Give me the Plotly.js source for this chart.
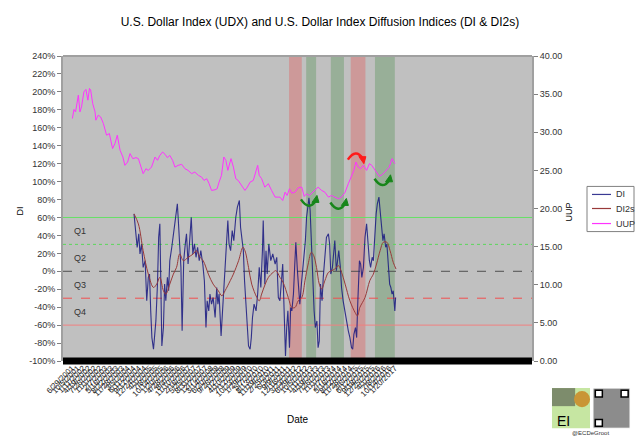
<!DOCTYPE html>
<html>
<head>
<meta charset="utf-8">
<script src="https://cdn.plot.ly/plotly-3.0.1.min.js"></script>
<style>html,body{margin:0;padding:0;background:#fff;}#chart{width:640px;height:438px;}</style>
</head>
<body>
<div id="chart"></div>
<script>
// ---- x axis tick labels (weekly data, a label every 14 weeks) ----
const tickWeeks = [0,14,28,42,56,70,84,98,112,126,140,154,168,182,196,210,224,238,252,266,280,294,308,322,336,350,364,378,392,406,420,434,448,462,476,490,504,518,532,546,560,574,588,602,616,630,644,658,672,686,700,714,728,742,756,770,784,798,812];
const tickLabels = ["6/29/2001","10/5/2001","1/11/2002","4/19/2002","7/26/2002","11/1/2002","2/7/2003","5/16/2003","8/22/2003","11/28/2003","3/5/2004","6/11/2004","9/17/2004","12/24/2004","4/1/2005","7/8/2005","10/14/2005","1/20/2006","4/28/2006","8/4/2006","11/10/2006","2/16/2007","5/25/2007","8/31/2007","12/7/2007","3/14/2008","6/20/2008","9/26/2008","1/2/2009","4/10/2009","7/17/2009","10/23/2009","1/29/2010","5/7/2010","8/13/2010","11/19/2010","2/25/2011","6/3/2011","9/9/2011","12/16/2011","3/23/2012","6/29/2012","10/5/2012","1/11/2013","4/19/2013","7/26/2013","11/1/2013","2/7/2014","5/16/2014","8/22/2014","11/28/2014","3/6/2015","6/12/2015","9/18/2015","12/25/2015","4/1/2016","7/8/2016","10/14/2016","1/20/2017"];

// ---- left axis tick labels ----
const diTicks = [240,220,200,180,160,140,120,100,80,60,40,20,0,-20,-40,-60,-80,-100];
const diTickLabels = ["240%","220%","200%","180%","160%","140%","120%","100%","80%","60%","40%","20%","0%","-20%","-40%","-60%","-80%","-100%"];

// ---- UUP (right axis) ----
const uupWeek = [1,5,9,16,20,24,30,35,40,44,47,52,58,60,66,72,79,87,94,102,108,114,121,128,133,140,146,153,161,167,171,179,186,192,200,209,215,221,228,234,240,246,253,259,267,276,284,292,301,309,318,326,332,339,345,351,360,365,370,376,382,387,392,396,400,406,412,418,427,435,441,448,456,463,467,471,477,485,494,502,511,519,523,530,536,541,547,553,561,569,578,584,590,597,603,611,619,628,636,645,653,661,670,678,687,695,703,709,714,720,726,733,741,748,754,760,766,773,781,790,798,805,812];
const uupValue = [31.80,32.99,32.67,34.87,32.67,33.33,35.30,35.62,34.21,35.75,35.53,33.78,32.67,31.58,32.24,32.01,31.14,29.61,29.83,27.86,28.51,29.61,27.63,26.75,25.66,26.09,27.20,26.54,26.67,26.54,25.88,24.57,25.22,25.00,25.43,26.75,26.32,26.97,27.41,27.11,26.67,26.97,26.32,25.43,25.66,25.79,25.22,25.00,24.57,24.78,24.34,24.12,23.68,23.91,23.25,22.37,22.46,22.59,23.46,24.34,26.75,26.32,25.00,25.88,26.54,25.43,23.91,23.68,23.03,22.37,22.80,23.46,23.68,25.00,25.66,24.34,23.91,22.80,23.25,22.37,21.49,21.49,21.49,21.05,22.14,21.71,22.59,22.01,22.14,22.72,22.80,21.58,21.93,21.71,22.01,22.37,22.80,22.37,22.14,21.49,21.71,21.49,21.28,21.49,22.14,23.25,24.34,25.00,26.09,25.43,25.22,25.66,25.00,25.88,25.66,25.22,24.78,24.21,24.47,25.00,25.43,26.54,25.88];

// ---- DI (left axis, %) ----
const diWeek = [156,161,164,168,171,175,179,184,188,192,195,198,201,205,208,211,215,218,221,223,226,230,233,236,240,243,246,251,255,259,262,265,267,271,274,277,281,285,288,292,296,300,304,308,312,316,320,324,329,333,337,340,344,347,351,355,360,364,367,370,375,379,382,386,389,392,395,399,403,407,412,416,421,424,428,431,434,438,441,444,448,451,454,458,463,467,471,475,479,481,485,488,491,495,500,505,511,515,519,523,530,533,537,540,543,547,550,553,557,560,563,567,570,573,577,580,583,587,590,594,596,599,602,606,609,612,616,619,622,625,629,632,636,640,645,648,651,655,658,661,665,668,671,675,678,682,687,691,695,699,703,706,709,713,716,719,723,726,729,733,737,741,745,748,751,755,758,761,765,768,772,775,779,782,785,789,792,795,799,802,805,808,812,814];
const diValue = [64,45,26.7,41.7,19.3,30.5,4.4,11.8,-32.9,-6.8,-3.1,-44,-73.9,-86.9,-70.2,-55.3,-14.3,37.9,52.9,-14.3,-83.2,-62.7,-14.3,-32.9,-6.8,-21.7,11.8,26.8,41.7,56.6,67.8,75.2,60.3,26.8,4.4,-66.4,11.8,30.5,41.7,8.1,34.2,60.3,19.3,30.5,15.6,26.8,11.8,23,8.1,-10.5,-62.7,-32.9,-44.1,-25.4,-36.6,-29.2,-51.5,-18,-36.6,-25.4,-72,-40.3,-18,11.8,45.4,56.6,30.5,23,45.4,34.2,60.3,71.5,78.9,49.1,34.2,23,-10.5,-44.1,-70.2,-83.2,-86.9,-73.9,-51.5,-36.6,-44.1,-25.4,4.4,-18,23,56.6,-14.3,23,-3.1,30.5,11.8,19.3,8.1,15.6,-29.2,-32.9,8.1,-32.9,-94.4,-62.7,-44.1,-85.1,-40.3,-44.1,-25.4,4.4,32.4,0.7,-25.4,-36.6,-14.3,0.7,19.3,34.2,60.3,75.2,82,67.8,26.8,-6.8,-44.1,-62.7,-55.3,-85.1,-77.6,-14.3,-32.9,-6.8,11.8,37.9,41.7,30.5,-3.1,4.4,19.3,34.2,0.7,11.8,23,4.4,-18,-32.9,-47.8,-59,-66.4,-73.9,-85.1,-86.9,-70.2,-62.7,-73.9,-32.9,11.8,8.1,-6.8,4.4,37.9,52.9,23,11.8,4.4,15.6,11.8,41.7,64,75.2,82.7,67.8,49.1,34.2,41.7,26.8,30.5,11.8,-14.3,-18,-25.4,-21.7,-44.1,-29.2];

// ---- DI2s (left axis, %) ----
const di2sWeek = [156,167,179,192,205,213,221,230,236,246,255,263,271,280,292,305,313,322,330,343,355,368,377,385,398,406,419,430,435,444,452,465,471,477,486,494,506,513,523,531,544,553,561,569,578,586,594,602,608,615,622,628,636,645,653,661,670,678,687,699,712,718,724,737,749,758,766,775,783,792,800,808,815];
const di2sValue = [64,52.8,23,-3.1,-18,-14.3,-6.8,-21.7,-25.4,-14.3,-3.1,4.4,19.3,11.8,15.6,19.3,23,15.6,11.8,-3.1,-14.3,-21.7,-27.3,-21.7,-10.5,-3.1,11.8,26.8,23,4.4,-14.3,-29.2,-32.9,-25.4,-14.3,-6.8,-1.2,0.7,-6.8,-12.4,-29.2,-40.3,-40.3,-32.9,-29.2,-10.5,8.1,21.2,17.5,4.4,-14.3,-19.8,-10.5,-1.2,0.7,2.5,6.3,-1.2,-14.3,-32.9,-45.9,-49.7,-40.3,-29.2,-10.5,-3.1,8.1,23,32.4,32.4,23,10,2.5];

// ---- shaded signal periods (weeks) ----
const bandStart = [546,589,651,701,762];
const bandEnd   = [578,614,684,738,812];
const bandKind  = ["bear","bull","bull","bear","bull"];

// ---- reversal arrows: week, UUP level, kind ----
const arrowWeek = [596,670,781,714];
const arrowLevel = [20.8,20.4,23.5,26.8];
const arrowKind = ["bull","bull","bull","bear"];

// ---- quartile threshold lines (DI %) ----
const refLevel = [60,30,0,-30,-60];
const refColor = ["#66e066","#5ad65a","#505050","#f05050","#f08080"];
const refDash  = ["solid","dot","dash","dash","solid"];
const quartileNames = ["Q1","Q2","Q3","Q4"];
const quartileMid = [45,15,-15,-45];

// ---- series names / colours (used for the traces and the drawn legend) ----
const seriesNames = ["DI","DI2s","UUP"];
const seriesColors = ["rgba(24,24,128,0.85)","#993a3a","#ff33ff"];

const FONT = "Liberation Sans, Arial, sans-serif";

const traces = [
  {x: diWeek, y: diValue, name: seriesNames[0], type: "scatter", mode: "lines",
   line: {color: seriesColors[0], width: 1.1}, yaxis: "y"},
  {x: di2sWeek, y: di2sValue, name: seriesNames[1], type: "scatter", mode: "lines",
   line: {color: seriesColors[1], width: 1, shape: "spline", smoothing: 1}, yaxis: "y"},
  {x: uupWeek, y: uupValue, name: seriesNames[2], type: "scatter", mode: "lines",
   line: {color: seriesColors[2], width: 1}, yaxis: "y2"}
];

const shapes = [];
bandStart.forEach((s, i) => {
  shapes.push({type: "rect", xref: "x", yref: "paper", x0: s, x1: bandEnd[i], y0: 0, y1: 1,
    fillcolor: bandKind[i] === "bear" ? "rgba(225,90,90,0.38)" : "rgba(70,140,70,0.33)",
    line: {width: 0}, layer: "below"});
});
refLevel.forEach((lv, i) => {
  shapes.push({type: "line", xref: "paper", yref: "y", x0: 0, x1: 1, y0: lv, y1: lv,
    line: {color: refColor[i], width: 1, dash: refDash[i]}, layer: "below"});
});
// top border and heavy bottom bar
shapes.push({type: "line", xref: "paper", yref: "paper", x0: 0, x1: 1, y0: 1, y1: 1,
  line: {color: "#a0a0a0", width: 2}});
shapes.push({type: "line", xref: "paper", yref: "paper", x0: 0, x1: 1, y0: 0, y1: 0,
  line: {color: "#000000", width: 7}});
// reversal arrows (pixel sized, anchored to data)
arrowWeek.forEach((w, i) => {
  const bull = arrowKind[i] === "bull";
  const col = bull ? "#17861a" : "#ff1a1a";
  shapes.push({type: "path", xref: "x", yref: "y2", xsizemode: "pixel", ysizemode: "pixel",
    xanchor: w, yanchor: arrowLevel[i],
    path: bull ? "M-8,3 Q0,-9 7,2" : "M-8,-3 Q0,9 7,-2",
    line: {color: col, width: 2.5}});
  shapes.push({type: "path", xref: "x", yref: "y2", xsizemode: "pixel", ysizemode: "pixel",
    xanchor: w, yanchor: arrowLevel[i],
    path: bull ? "M3,0 L10,0 L8,7 Z" : "M3,0 L10,0 L8,-7 Z",
    fillcolor: col, line: {color: col, width: 1}});
});

// drawn legend (box, line samples, labels)
const legendRowY = [0.5461, 0.5, 0.4507];
shapes.push({type: "rect", xref: "paper", yref: "paper", x0: 1.1173, x1: 1.2175, y0: 0.4243, y1: 0.5724,
  fillcolor: "#ffffff", line: {color: "#808080", width: 1}});
seriesNames.forEach((n, i) => {
  shapes.push({type: "line", xref: "paper", yref: "paper", x0: 1.1279, x1: 1.1684,
    y0: legendRowY[i], y1: legendRowY[i], line: {color: seriesColors[i], width: 1.2}});
});

// logo block (bottom right)
shapes.push({type: "rect", xref: "paper", yref: "paper", x0: 1.0426, x1: 1.1237, y0: -0.2204, y1: -0.0888,
  fillcolor: "#c6e6a2", line: {width: 0}});
shapes.push({type: "rect", xref: "paper", yref: "paper", x0: 1.0426, x1: 1.092, y0: -0.148, y1: -0.0888,
  fillcolor: "#7d8c6c", line: {width: 0}});
shapes.push({type: "circle", xref: "paper", yref: "paper", x0: 1.0896, x1: 1.1237, y0: -0.1513, y1: -0.0987,
  fillcolor: "#c99536", line: {width: 0}});
shapes.push({type: "rect", xref: "paper", yref: "paper", x0: 1.130, x1: 1.209, y0: -0.2204, y1: -0.0888,
  fillcolor: "#8c8c8c", line: {color: "#ffffff", width: 1}});
[[1.135,-0.118],[1.190,-0.118],[1.135,-0.214]].forEach(p => {
  shapes.push({type: "rect", xref: "paper", yref: "paper", x0: p[0], x1: p[0] + 0.015, y0: p[1], y1: p[1] + 0.022,
    fillcolor: "#ffffff", line: {color: "#000000", width: 1.5}});
});

const annotations = quartileNames.map((q, i) => ({
  text: q, xref: "paper", yref: "y", x: 0.019, y: quartileMid[i], xanchor: "left", yanchor: "middle",
  showarrow: false, font: {family: FONT, size: 9, color: "#333333"}
}));
seriesNames.forEach((n, i) => {
  annotations.push({text: n, xref: "paper", yref: "paper", x: 1.1748, y: legendRowY[i],
    xanchor: "left", yanchor: "middle", showarrow: false,
    font: {family: FONT, size: 9, color: "#333333"}});
});
// axis titles
annotations.push({text: "DI", xref: "paper", yref: "paper", x: (20 - 63) / 469, y: 0.49,
  textangle: -90, showarrow: false, xanchor: "center", yanchor: "middle",
  font: {family: FONT, size: 9, color: "#000000"}});
annotations.push({text: "UUP", xref: "paper", yref: "paper", x: (569 - 63) / 469, y: 0.487,
  textangle: -90, showarrow: false, xanchor: "center", yanchor: "middle",
  font: {family: FONT, size: 9, color: "#000000"}});
annotations.push({text: "Date", xref: "paper", yref: "paper", x: 0.5, y: (360 - 418) / 304,
  showarrow: false, xanchor: "center", yanchor: "middle",
  font: {family: FONT, size: 10, color: "#000000"}});
annotations.push({text: "EI", xref: "paper", yref: "paper", x: 1.068, y: -0.196,
  xanchor: "center", yanchor: "middle", showarrow: false,
  font: {family: FONT, size: 14, color: "#000000"}});
annotations.push({text: "@ECDeGroot", xref: "paper", yref: "paper", x: 1.124, y: -0.237,
  xanchor: "center", yanchor: "middle", showarrow: false,
  font: {family: FONT, size: 6, color: "#333333"}});

const layout = {
  width: 640, height: 438,
  paper_bgcolor: "#ffffff", plot_bgcolor: "#c0c0c0",
  margin: {l: 63, r: 108, t: 56, b: 77, pad: 0, autoexpand: false},
  font: {family: FONT, size: 9, color: "#333333"},
  title: {text: "U.S. Dollar Index (UDX) and U.S. Dollar Index Diffusion Indices (DI & DI2s)",
    x: 0.5, xref: "container", y: 0.95, yref: "container", yanchor: "middle",
    font: {family: FONT, size: 12, color: "#000000"}},
  showlegend: false,
  xaxis: {range: [-22.6, 1157], tickmode: "array", tickvals: tickWeeks, ticktext: tickLabels,
    tickangle: -45, tickfont: {family: FONT, size: 8, color: "#222222"}, ticks: "",
    showgrid: false, zeroline: false, showline: false, automargin: false},
  yaxis: {range: [-100, 240], tickmode: "array", tickvals: diTicks, ticktext: diTickLabels,
    ticks: "outside", ticklen: 4,
    tickcolor: "#808080", tickfont: {family: FONT, size: 9, color: "#333333"},
    showline: true, linecolor: "#a0a0a0", linewidth: 2, showgrid: false, zeroline: false, automargin: false},
  yaxis2: {range: [0, 40], dtick: 5, tick0: 0, tickformat: ".2f", overlaying: "y", side: "right",
    ticks: "outside", ticklen: 4, tickcolor: "#808080", tickfont: {family: FONT, size: 9, color: "#333333"},
    showline: true, linecolor: "#a0a0a0", linewidth: 2, showgrid: false, zeroline: false, automargin: false},
  shapes: shapes,
  annotations: annotations
};

Plotly.newPlot("chart", traces, layout, {displayModeBar: false, staticPlot: true});
</script>
</body>
</html>
